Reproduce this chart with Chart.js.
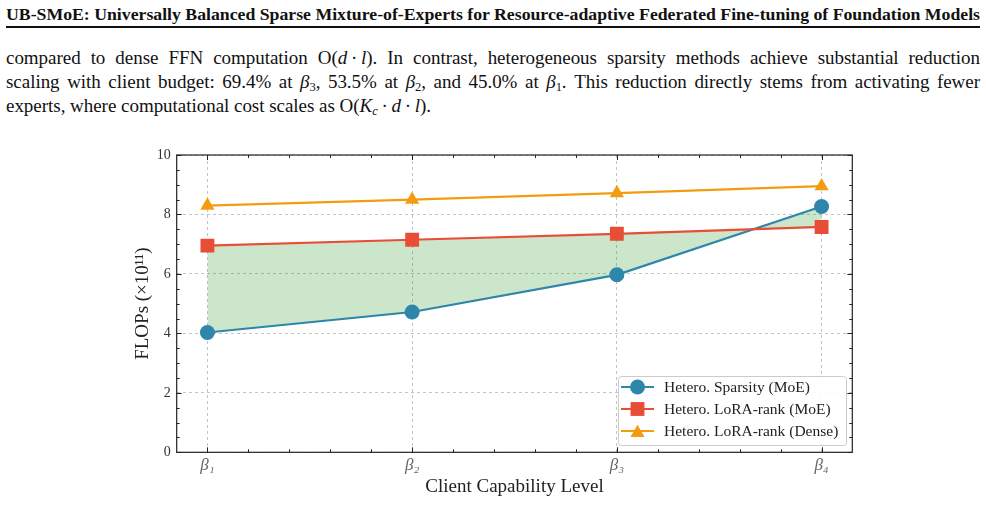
<!DOCTYPE html>
<html>
<head>
<meta charset="utf-8">
<script src="https://cdn.jsdelivr.net/npm/chart.js@4.4.1/dist/chart.umd.min.js"></script>
<style>
  html, body { margin: 0; padding: 0; background: #fff; }
  body { width: 986px; height: 513px; position: relative; overflow: hidden; font-family: "Liberation Serif", serif; color: #111; }
  .head { position: absolute; left: 6px; top: 5px; font-weight: bold; font-size: 16.5px; white-space: nowrap; transform-origin: 0 0; display: inline-block; }
  .rule { position: absolute; left: 6px; top: 26px; width: 974px; height: 2px; background: #111; }
  .txt { position: absolute; left: 6px; width: 974px; font-size: 19px; white-space: nowrap; line-height: 22px; }
  .just { text-align: justify; text-align-last: justify; }
  .m { font-style: italic; }
  sub { font-size: 12.5px; vertical-align: -3px; line-height: 0; }
  #c { position: absolute; left: 0; top: 0; }
</style>
</head>
<body>
<div class="head" id="head">UB-SMoE: Universally Balanced Sparse Mixture-of-Experts for Resource-adaptive Federated Fine-tuning of Foundation Models</div>
<div class="rule"></div>
<div class="txt just" style="top:47px"><span class="ln">compared to dense FFN computation O(<span class="m">d</span>&thinsp;·&thinsp;<span class="m">l</span>). In contrast, heterogeneous sparsity methods achieve substantial reduction</span></div>
<div class="txt just" style="top:71px"><span class="ln">scaling with client budget: 69.4% at <span class="m">β</span><sub>3</sub>, 53.5% at <span class="m">β</span><sub>2</sub>, and 45.0% at <span class="m">β</span><sub>1</sub>. This reduction directly stems from activating fewer</span></div>
<div class="txt" style="top:95px"><span class="ln">experts, where computational cost scales as O(<span class="m">K</span><sub class="m">c</sub>&thinsp;·&thinsp;<span class="m">d</span>&thinsp;·&thinsp;<span class="m">l</span>).</span></div>
<canvas id="c" width="986" height="513"></canvas>
<script>
const levels = ['β₁', 'β₂', 'β₃', 'β₄'];
const sparsityMoE = [4.03, 4.72, 5.97, 8.27];
const loraMoE = [6.95, 7.15, 7.35, 7.58];
const loraDense = [8.30, 8.50, 8.72, 8.95];
const seriesNames = ['Hetero. Sparsity (MoE)', 'Hetero. LoRA-rank (MoE)', 'Hetero. LoRA-rank (Dense)'];
const seriesColors = ['#2e86ab', '#e84e36', '#f39c12'];
const seriesMarkers = ['circle', 'rect', 'triangle'];
const markerSizes = [7.5, 9.8, 8.2];
const yTicks = [0, 2, 4, 6, 8, 10];

const serif = '"Liberation Serif", "DejaVu Serif", serif';

// squeeze the running head to the page width, widen the body text a bit
const head = document.getElementById('head');
head.style.transform = 'scaleX(' + (974 / head.getBoundingClientRect().width) + ')';
const lines = Array.from(document.querySelectorAll('.ln'));
const goal = [970, 970, 462];
let ls = Infinity;
lines.forEach((el, i) => {
    const w = el.getBoundingClientRect().width;
    ls = Math.min(ls, (goal[i] - w) / el.textContent.length);
});
document.querySelectorAll('.txt').forEach(el => { el.style.letterSpacing = ls + 'px'; });

function pts(arr) {
    return arr.map((v, i) => ({x: i, y: v}));
}

// ticks pointing inwards on all four sides, plus the box
const frameTicks = {
    id: 'frameTicks',
    afterDraw(chart) {
        const {ctx, chartArea: a, scales: {x, y}} = chart;
        ctx.save();
        ctx.strokeStyle = '#222';
        ctx.lineWidth = 1;
        ctx.beginPath();
        for (let i = 0; i <= 15; i++) {
            const px = Math.round(x.getPixelForValue(i * 0.2)) + 0.5;
            const len = i % 5 === 0 ? 5 : 3;
            ctx.moveTo(px, a.bottom); ctx.lineTo(px, a.bottom - len);
            ctx.moveTo(px, a.top); ctx.lineTo(px, a.top + len);
        }
        for (let j = 0; j <= 20; j++) {
            const py = Math.round(y.getPixelForValue(j * 0.5)) + 0.5;
            const len = j % 4 === 0 ? 5 : 3;
            ctx.moveTo(a.left, py); ctx.lineTo(a.left + len, py);
            ctx.moveTo(a.right, py); ctx.lineTo(a.right - len, py);
        }
        ctx.stroke();
        ctx.lineWidth = 1.2;
        ctx.strokeRect(a.left, a.top, a.right - a.left, a.bottom - a.top);
        ctx.restore();
    }
};

// matplotlib style legend box in the lower right corner
const boxLegend = {
    id: 'boxLegend',
    afterDraw(chart) {
        const {ctx} = chart;
        const bx = 618, by = 376, bw = 228, bh = 69;
        ctx.save();
        ctx.fillStyle = 'rgba(255,255,255,0.9)';
        ctx.strokeStyle = '#cccccc';
        ctx.lineWidth = 1;
        ctx.beginPath();
        ctx.roundRect(bx + 0.5, by + 0.5, bw, bh, 3);
        ctx.fill();
        ctx.stroke();
        ctx.font = '15.5px ' + serif;
        ctx.textBaseline = 'middle';
        chart.data.datasets.forEach((ds, i) => {
            const cy = by + 11 + i * 22;
            ctx.strokeStyle = ds.borderColor;
            ctx.lineWidth = 2.2;
            ctx.beginPath();
            ctx.moveTo(bx + 3, cy);
            ctx.lineTo(bx + 36, cy);
            ctx.stroke();
            ctx.fillStyle = ds.borderColor;
            Chart.helpers.drawPoint(ctx, {pointStyle: ds.pointStyle, radius: ds.pointRadius, rotation: 0, borderWidth: 0}, bx + 19.5, cy + (ds.pointStyle === 'triangle' ? 2 : 0));
            ctx.fillStyle = '#222';
            ctx.fillText(ds.label, bx + 46, cy + 1);
        });
        ctx.restore();
    }
};

const values = [sparsityMoE, loraMoE, loraDense];
const datasets = values.map((arr, i) => ({
    label: seriesNames[i],
    data: pts(arr),
    borderColor: seriesColors[i],
    backgroundColor: seriesColors[i],
    pointBackgroundColor: seriesColors[i],
    pointBorderColor: seriesColors[i],
    pointBorderWidth: 0,
    pointStyle: seriesMarkers[i],
    pointRadius: markerSizes[i],
    pointHoverRadius: markerSizes[i],
    borderWidth: 2.2,
    tension: 0,
    order: 3 - i,
    fill: false
}));
// shaded gap between sparsity and LoRA-rank (MoE)
datasets[0].fill = {target: '+1', above: 'rgba(0,128,0,0.2)', below: 'rgba(0,128,0,0.2)'};

const ctx = document.getElementById('c');
new Chart(ctx, {
    type: 'line',
    data: {datasets: datasets},
    plugins: [frameTicks, boxLegend],
    options: {
        responsive: false,
        animation: false,
        devicePixelRatio: 1,
        layout: {padding: {left: 127, top: 155, right: 133.7, bottom: 15}},
        plugins: {
            legend: {display: false},
            tooltip: {enabled: false}
        },
        scales: {
            x: {
                type: 'linear',
                min: -0.15,
                max: 3.15,
                afterBuildTicks: (s) => { s.ticks = levels.map((_, i) => ({value: i})); },
                afterFit: (s) => { s.height = 45.7; },
                grid: {color: '#b5b5b5', lineWidth: 0.8, drawTicks: false},
                border: {display: false, dash: [3, 3]},
                ticks: {
                    padding: 3,
                    color: '#666',
                    font: {family: serif, size: 17, style: 'italic'},
                    callback: (v) => levels[v]
                },
                title: {
                    display: true,
                    text: 'Client Capability Level',
                    color: '#222',
                    font: {family: serif, size: 19},
                    padding: {top: 4, bottom: 0}
                }
            },
            y: {
                type: 'linear',
                min: 0,
                max: 10,
                afterBuildTicks: (s) => { s.ticks = yTicks.map(v => ({value: v})); },
                afterFit: (s) => { s.width = 49.7; },
                grid: {color: '#b5b5b5', lineWidth: 0.8, drawTicks: false},
                border: {display: false, dash: [3, 3]},
                ticks: {
                    padding: 6,
                    color: '#333',
                    font: {family: serif, size: 14}
                },
                title: {
                    display: true,
                    text: 'FLOPs (×10¹¹)',
                    color: '#222',
                    font: {family: serif, size: 19},
                    padding: {top: 5, bottom: 0}
                }
            }
        }
    }
});
</script>
</body>
</html>
